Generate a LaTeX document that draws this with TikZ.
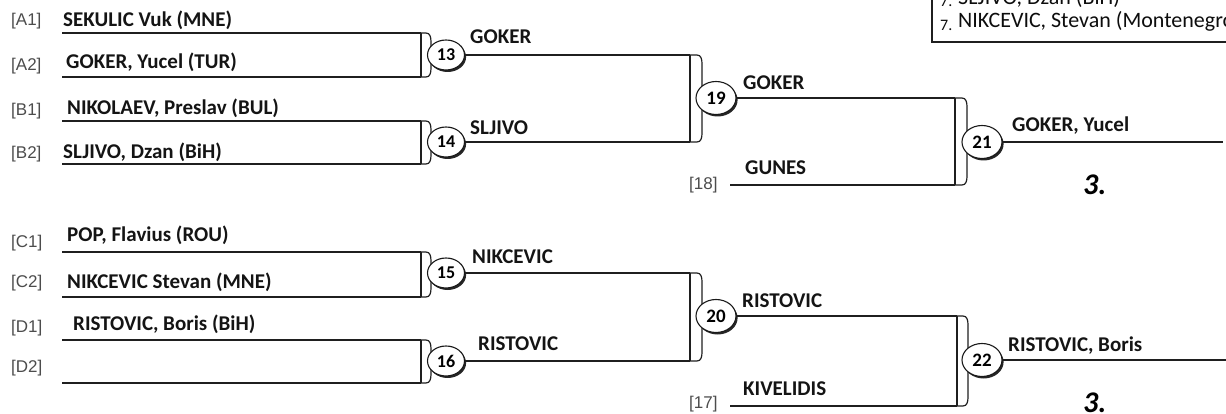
\documentclass[tikz,border=0pt]{standalone}
\usepackage{fontspec}
\setmainfont{Carlito}
\newfontfamily\labfont{Liberation Sans}
\usetikzlibrary{shapes.geometric,shadows}
\newcommand\mybrk[4]{%
  \draw[brk] (#1,#2) -- ({#1+#4-5},#2) .. controls ({#1+#4-1},#2) and ({#1+#4},{#2+4}) .. ({#1+#4},{#2+9})
    -- ({#1+#4},{#3-9}) .. controls ({#1+#4},{#3-4}) and ({#1+#4-1},#3) .. ({#1+#4-5},#3) -- (#1,#3);}
\begin{document}
\begin{tikzpicture}[x=1pt,y=-1pt,
  ln/.style={line width=1.8pt, draw=black!88},
  brk/.style={line width=1.2pt, draw=black!88},
  nm/.style={anchor=base west, inner sep=0pt, font=\fontsize{21}{21}\selectfont\bfseries, text=black!92},
  slot/.style={anchor=west, inner sep=0pt, font=\labfont\fontsize{17}{17}\selectfont, text=black!70},
  mc/.style={ellipse, draw=black!90, line width=1.1pt, fill=white, minimum width=37pt, minimum height=30pt, inner sep=0pt,
     font=\fontsize{18}{18}\selectfont\bfseries,
     drop shadow={shadow xshift=1.6pt, shadow yshift=-2pt, fill=black!85, opacity=1}},
  mcb/.style={mc, minimum width=40pt, minimum height=33pt, font=\fontsize{19}{19}\selectfont\bfseries},
  place/.style={anchor=base west, inner sep=0pt, font=\fontsize{30}{30}\selectfont\bfseries\itshape},
  boxtxt/.style={anchor=base west, inner sep=0pt, font=\fontsize{22}{22}\selectfont, text=black!95},
  boxnum/.style={anchor=base west, inner sep=0pt, font=\fontsize{16}{16}\selectfont, text=black!95}
]
\useasboundingbox (0,0) rectangle (1226,414);
\clip (0,0) rectangle (1226,414);

% ---------- first round slots ----------
\foreach \n/\y in {a1/33,a2/77,b1/121,b2/164,c1/252,c2/297,d1/340,d2/383}{
  \coordinate (\n s) at (62,\y);
  \coordinate (\n e) at (421,\y);
  \draw[ln] (\n s) -- (\n e);
}
\draw[ln] (a1e) -- (a2e);
\draw[ln] (b1e) -- (b2e);
\draw[ln] (c1e) -- (c2e);
\draw[ln] (d1e) -- (d2e);
\mybrk{421}{33}{77}{10}
\mybrk{421}{121}{164}{10}
\mybrk{421}{252}{297}{10}
\mybrk{421}{340}{383}{10}

\node[slot] (la1) at (11,21) {[A1]};
\node[slot] (la2) at (11,66) {[A2]};
\node[slot] (lb1) at (11,111) {[B1]};
\node[slot] (lb2) at (11,154) {[B2]};
\node[slot] (lc1) at (11,243) {[C1]};
\node[slot] (lc2) at (11,283) {[C2]};
\node[slot] (ld1) at (11,328) {[D1]};
\node[slot] (ld2) at (11,368) {[D2]};

\node[nm] (na1) at (63,27) {SEKULIC Vuk (MNE)};
\node[nm] (na2) at (66,69) {GOKER, Yucel (TUR)};
\node[nm] (nb1) at (67,115) {NIKOLAEV, Preslav (BUL)};
\node[nm] (nb2) at (63,159) {SLJIVO, Dzan (BiH)};
\node[nm] (nc1) at (67,241) {POP, Flavius (ROU)};
\node[nm] (nc2) at (67,288) {NIKCEVIC Stevan (MNE)};
\node[nm] (nd1) at (73,330) {RISTOVIC, Boris (BiH)};

% ---------- second round ----------
\coordinate (r13) at (690,55);
\coordinate (r14) at (690,142);
\coordinate (r15) at (690,273);
\coordinate (r16) at (690,361);
\draw[ln] (r13) -- (r14);
\draw[ln] (r15) -- (r16);
\mybrk{690}{55}{142}{12}
\mybrk{690}{273}{361}{12}

\node[mc] (m13) at (446,55) {13};
\node[mc] (m14) at (446,142) {14};
\node[mc] (m15) at (446,273) {15};
\node[mc] (m16) at (446,361) {16};
\draw[ln] (m13) -- (r13);
\draw[ln] (m14) -- (r14);
\draw[ln] (m15) -- (r15);
\draw[ln] (m16) -- (r16);

\node[nm] (w13) at (470,44) {GOKER};
\node[nm] (w14) at (470,135) {SLJIVO};
\node[nm] (w15) at (472,263) {NIKCEVIC};
\node[nm] (w16) at (478,350) {RISTOVIC};

% ---------- third round ----------
\coordinate (r19) at (955,98);
\coordinate (r18) at (955,185);
\coordinate (s18) at (730,185);
\coordinate (r20) at (957,316);
\coordinate (r17) at (957,406);
\coordinate (s17) at (730,406);
\draw[ln] (s18) -- (r18);
\draw[ln] (s17) -- (r17);
\draw[ln] (r19) -- (r18);
\draw[ln] (r20) -- (r17);
\mybrk{955}{98}{185}{12}
\mybrk{957}{316}{406}{11}

\node[mcb] (m19) at (716,98) {19};
\node[mcb] (m20) at (716,316) {20};
\draw[ln] (m19) -- (r19);
\draw[ln] (m20) -- (r20);

\node[nm] (w19) at (743,90) {GOKER};
\node[nm] (w18) at (745,175) {GUNES};
\node[nm] (w20) at (742,307) {RISTOVIC};
\node[nm] (w17) at (743,395) {KIVELIDIS};
\node[slot] (l18) at (689,185) {[18]};
\node[slot] (l17) at (689,404) {[17]};

% ---------- final round ----------
\coordinate (f21) at (1223,142);
\coordinate (f22) at (1226,360);
\node[mcb] (m21) at (982,142) {21};
\node[mcb] (m22) at (982,360) {22};
\draw[ln] (m21) -- (f21);
\draw[ln] (m22) -- (f22);
\node[nm] (w21) at (1012,132) {GOKER, Yucel};
\node[nm] (w22) at (1008,351) {RISTOVIC, Boris};
\node[place] (p21) at (1083,195) {3.};
\node[place] (p22) at (1083,412) {3.};

% ---------- result box (cut off) ----------
\draw[line width=2.8pt, draw=black!88] (1240,-10) -- (932,-10) -- (932,42) -- (1240,42);
\node[boxnum] (k1) at (940,7) {7.};
\node[boxtxt] (t1) at (958,5) {SLJIVO, Dzan (BiH)};
\node[boxnum] (k2) at (940,31) {7.};
\node[boxtxt] (t2) at (958,28) {NIKCEVIC, Stevan (Montenegro)};
\end{tikzpicture}
\end{document}
